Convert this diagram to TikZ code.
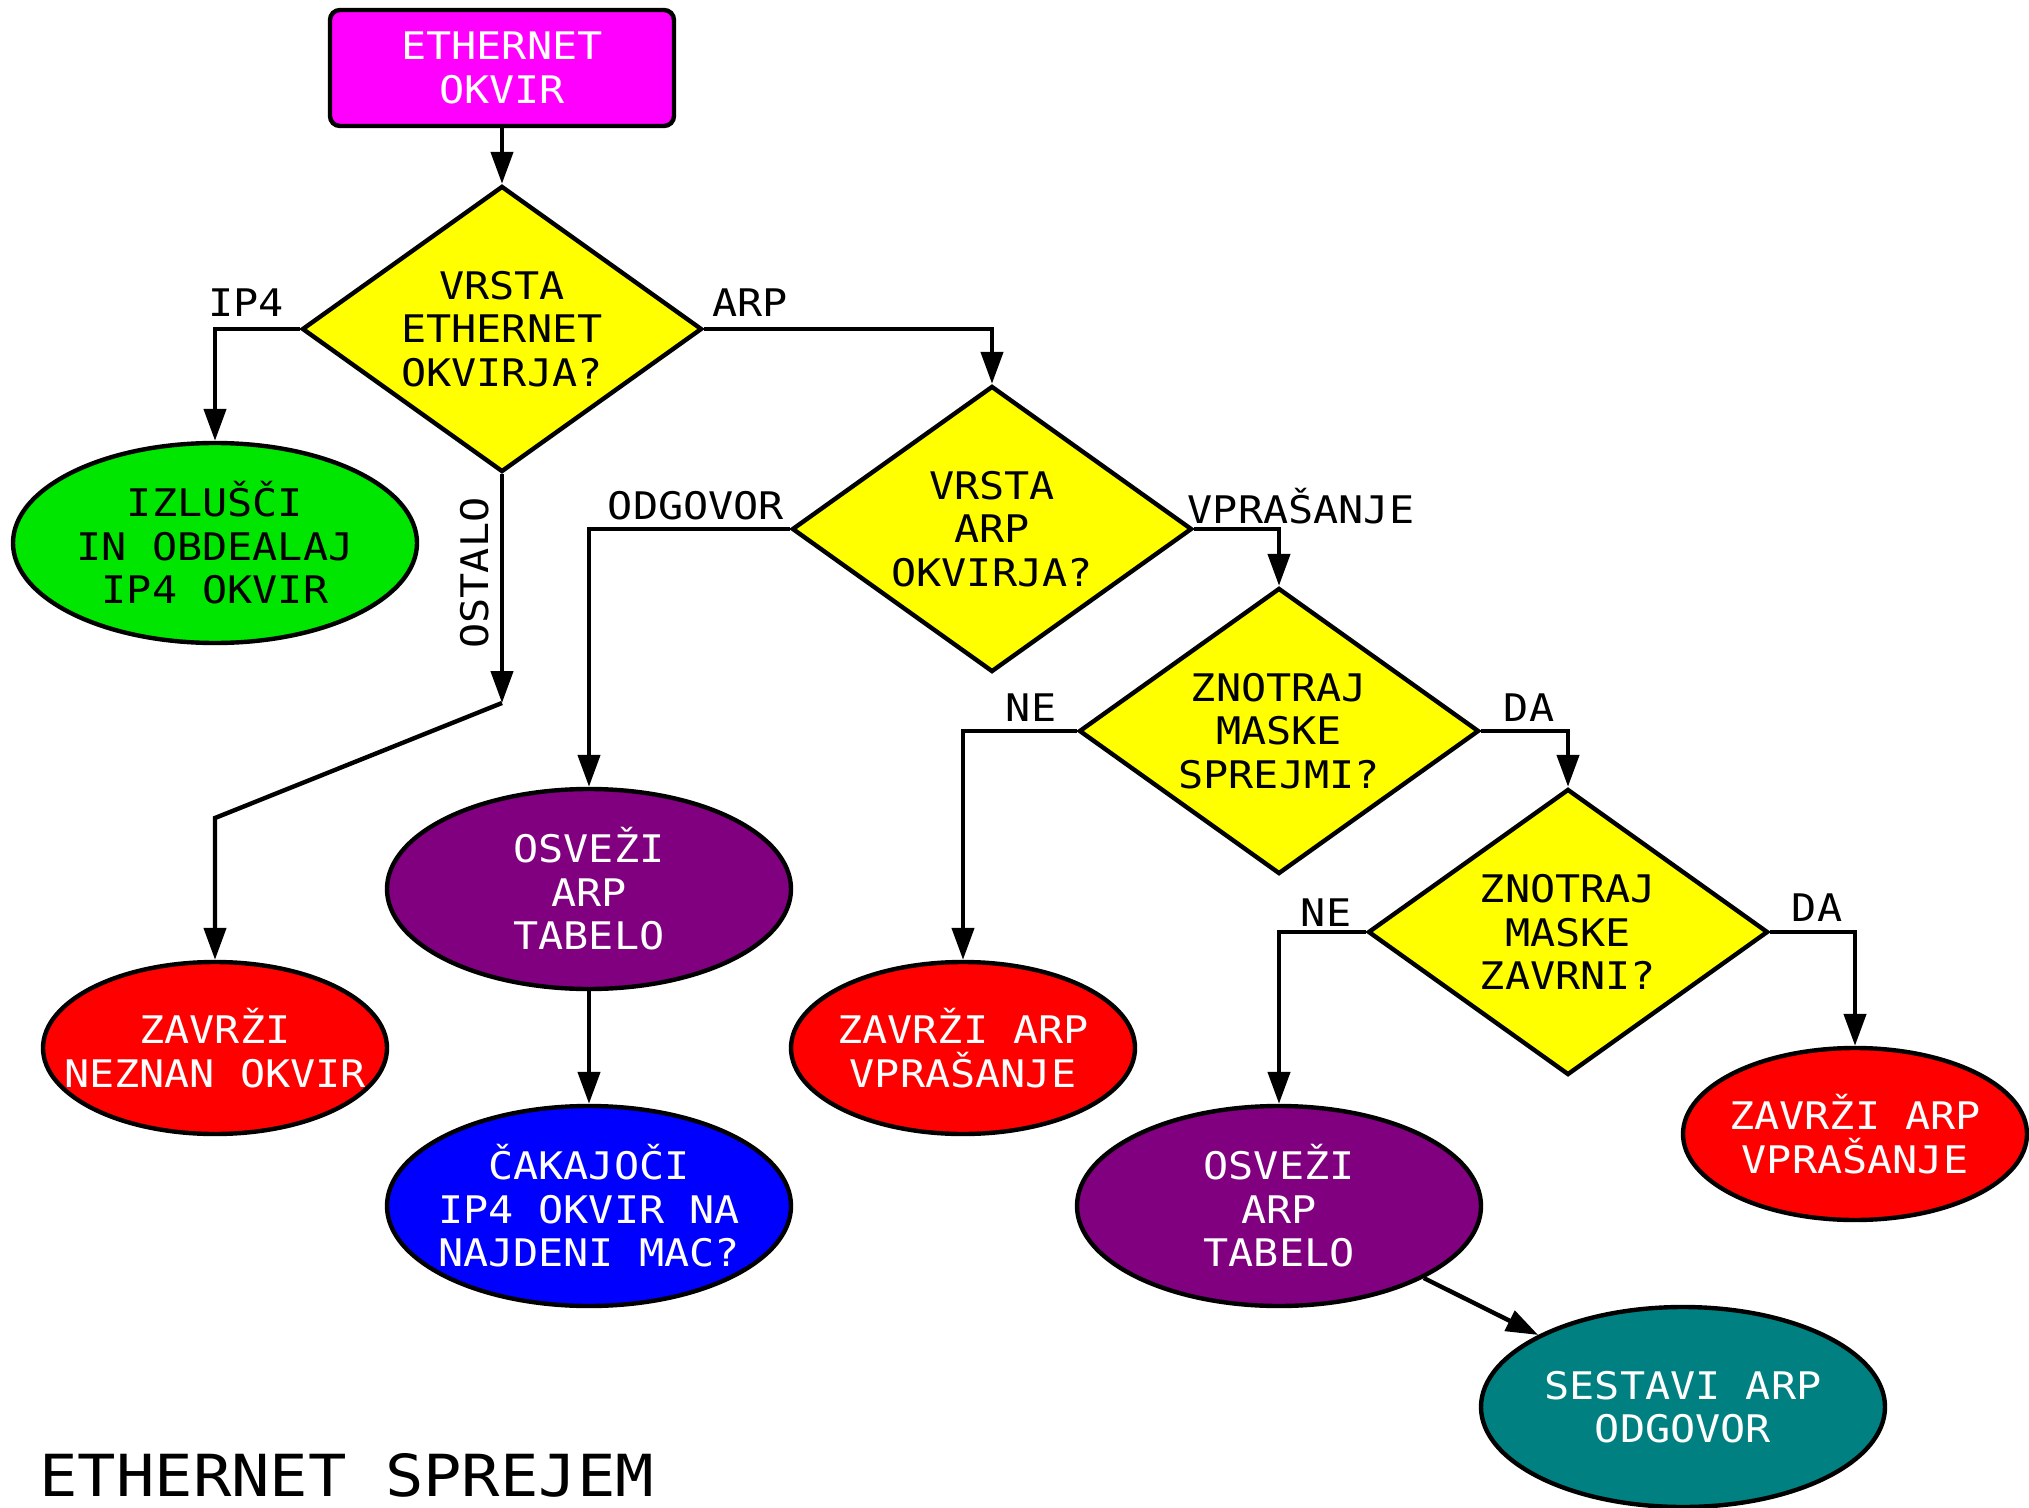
\documentclass[tikz,border=0pt]{standalone}
\usepackage{fontspec}
\setmainfont{DejaVu Sans Mono}[FakeStretch=1.1]
\usetikzlibrary{shapes.geometric,arrows.meta}

\definecolor{vijolicna}{RGB}{128,0,128}
\definecolor{zelena}{RGB}{0,230,0}
\definecolor{modrozelena}{RGB}{0,128,128}
\definecolor{roza}{RGB}{255,0,255}
\definecolor{rumena}{RGB}{255,255,0}
\definecolor{rdeca}{RGB}{255,0,0}
\definecolor{modra}{RGB}{0,0,255}

\tikzset{
	povezava/.style={line width=2.2pt, -{Triangle[length=16pt,width=11pt]}},
	romb/.style={diamond, draw, line width=2.2pt, fill=rumena, inner sep=0pt, aspect=1.4,
		minimum width=200pt, minimum height=143pt, align=center},
	elipsa/.style={ellipse, draw, line width=2.2pt, inner xsep=-30pt, inner ysep=0pt,
		minimum width=202pt, minimum height=100pt, align=center, text=white},
	mala/.style={elipsa, minimum width=172pt, minimum height=86pt, fill=rdeca},
	oznaka/.style={inner sep=0pt}
}

\begin{document}
\begin{tikzpicture}[x=0.5pt, y=-0.5pt, font=\fontsize{19pt}{21.7pt}\selectfont]

	\useasboundingbox (0,0) rectangle (2029,1508);

	\node[draw, line width=2.2pt, rounded corners=5pt, fill=roza, text=white,
		minimum width=172pt, minimum height=58pt, align=center] (okvir) at (502,68) {ETHERNET\\OKVIR};

	\node[romb] (vrsta) at (502,329) {VRSTA\\ETHERNET\\OKVIRJA?};
	\node[romb] (arpvrsta) at (992,529) {VRSTA\\ARP\\OKVIRJA?};
	\node[romb] (sprejmi) at (1279,731) {ZNOTRAJ\\MASKE\\SPREJMI?};
	\node[romb] (zavrni) at (1568,932) {ZNOTRAJ\\MASKE\\ZAVRNI?};

	\node[elipsa, fill=zelena, text=black] (ip4) at (215,543) {IZLUŠČI\\IN OBDEALAJ\\IP4 OKVIR};
	\node[mala] (neznan) at (215,1048) {ZAVRŽI\\NEZNAN OKVIR};
	\node[elipsa, fill=vijolicna] (osvezi1) at (589,889) {OSVEŽI\\ARP\\TABELO};
	\node[elipsa, fill=modra] (cakajoci) at (589,1206) {ČAKAJOČI\\IP4 OKVIR NA\\NAJDENI MAC?};
	\node[mala] (zavrzi1) at (963,1048) {ZAVRŽI ARP\\VPRAŠANJE};
	\node[elipsa, fill=vijolicna] (osvezi2) at (1279,1206) {OSVEŽI\\ARP\\TABELO};
	\node[mala] (zavrzi2) at (1855,1134) {ZAVRŽI ARP\\VPRAŠANJE};
	\node[elipsa, fill=modrozelena] (sestavi) at (1683,1407) {SESTAVI ARP\\ODGOVOR};

	\coordinate (ostalo) at (502,703);
	\coordinate (kolen) at (215,818);

	\foreach \i / \a / \j in {
	vrsta/west/ip4,
	vrsta/east/arpvrsta,
	arpvrsta/west/osvezi1,
	arpvrsta/east/sprejmi,
	sprejmi/west/zavrzi1,
	sprejmi/east/zavrni,
	zavrni/west/osvezi2,
	zavrni/east/zavrzi2}
	{
		\draw[povezava] (\i.\a) -| (\j.north);
	};

	\draw[povezava] (okvir) -- (vrsta);
	\draw[povezava] (osvezi1) -- (cakajoci);
	\draw[povezava] (osvezi2) -- (sestavi);
	\draw[povezava] (vrsta.south) -- (ostalo);
	\draw[povezava] (ostalo) -- (kolen) -- (neznan.north);

	\node[oznaka] (lip4) at (246,303) {IP4};
	\node[oznaka] (larp) at (750,303) {ARP};
	\node[oznaka, rotate=90] (lostalo) at (475,573) {OSTALO};
	\node[oznaka] (lodgovor) at (696,506) {ODGOVOR};
	\node[oznaka] (lvprasanje) at (1301,506) {VPRAŠANJE};
	\node[oznaka] (lne1) at (1031,708) {NE};
	\node[oznaka] (lda1) at (1529,708) {DA};
	\node[oznaka] (lne2) at (1326,913) {NE};
	\node[oznaka] (lda2) at (1817,908) {DA};

	\node[oznaka, anchor=base west, font=\fontsize{29pt}{33pt}\selectfont] (naslov) at (39,1496) {ETHERNET SPREJEM};
\end{tikzpicture}
\end{document}
